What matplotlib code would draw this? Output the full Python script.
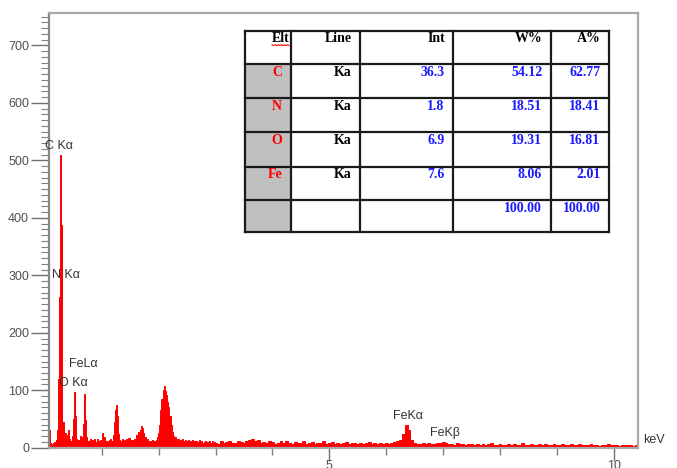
import numpy as np
import matplotlib.pyplot as plt
from matplotlib.patches import Rectangle
from matplotlib.ticker import MultipleLocator, FixedLocator

# EDS spectrum, counts per channel
# low energy part: 0.06 - 2.98 keV, 0.02 keV per channel
low_start, low_step = 0.06, 0.02
low_counts = [
    34, 30, 8, 5, 6, 8, 10, 14, 30, 120,
    262, 510, 387, 45, 18, 26, 14, 22, 30, 16,
    12, 20, 50, 97, 55, 16, 10, 14, 20, 13,
    18, 42, 93, 48, 18, 12, 10, 16, 9, 13,
    11, 15, 10, 16, 12, 9, 13, 11, 25, 18,
    10, 12, 9, 11, 13, 15, 12, 22, 45, 66,
    74, 55, 24, 14, 11, 15, 10, 13, 12, 16,
    12, 17, 11, 14, 10, 13, 16, 14, 22, 27,
    20, 30, 38, 34, 26, 18, 13, 15, 11, 9,
    12, 10, 14, 11, 9, 13, 18, 25, 40, 65,
    85, 100, 107, 98, 92, 80, 70, 55, 40, 28,
    20, 15, 18, 13, 16, 12, 14, 11, 15, 12,
    10, 13, 11, 14, 9, 12, 10, 13, 9, 11,
    12, 8, 10, 13, 9, 11, 8, 10, 12, 9,
    10, 8, 11, 9, 12, 8, 10,
]
# high energy part: 3.00 - 10.40 keV, 0.05 keV per channel
high_start, high_step = 3.00, 0.05
high_counts = [
    9, 7, 11, 8, 10, 12, 9, 8, 11, 10,
    9, 12, 14, 15, 11, 13, 9, 10, 8, 12,
    10, 7, 9, 11, 8, 12, 9, 7, 10, 8,
    9, 11, 7, 8, 10, 6, 9, 8, 11, 7,
    8, 10, 7, 9, 6, 8, 10, 7, 9, 8,
    7, 9, 6, 8, 10, 7, 8, 6, 9, 7,
    8, 7, 9, 10, 12, 14, 24, 39, 31, 14,
    8, 7, 6, 8, 7, 9, 6, 7, 8, 9,
    10, 8, 6, 7, 5, 8, 6, 7, 5, 6,
    7, 5, 6, 4, 7, 5, 6, 8, 5, 4,
    6, 5, 4, 7, 5, 6, 4, 5, 8, 5,
    4, 6, 5, 4, 6, 5, 7, 4, 5, 6,
    5, 4, 6, 5, 4, 7, 5, 4, 6, 5,
    4, 5, 6, 4, 5, 3, 5, 4, 6, 4,
    5, 4, 3, 5, 4, 5, 4, 3, 5,
]

# peak labels: text, energy (keV), height (counts)
peak_names = ['C K\u03b1', 'N K\u03b1', 'FeL\u03b1', 'O K\u03b1', 'FeK\u03b1', 'FeK\u03b2']
peak_x = [0.0, 0.12, 0.425, 0.255, 6.125, 6.77]
peak_y = [525, 300, 146, 112, 55, 25]

# quantification table
elements = ['C', 'N', 'O', 'Fe']
lines = ['Ka', 'Ka', 'Ka', 'Ka']
intensity = ['36.3', '1.8', '6.9', '7.6']
weight_pct = ['54.12', '18.51', '19.31', '8.06']
atomic_pct = ['62.77', '18.41', '16.81', '2.01']
headers = ['Elt', 'Line', 'Int', 'W%', 'A%']
totals = ['', '', '', '100.00', '100.00']

plt.rcParams['font.family'] = ['Liberation Sans', 'DejaVu Sans']

fig = plt.figure(figsize=(6.77, 4.68), dpi=100)
ax = fig.add_axes([48.5 / 677, 20.3 / 468, 589.2 / 677, 435 / 468])

e_low = low_start + low_step * np.arange(len(low_counts))
e_high = high_start + high_step * np.arange(len(high_counts))
energy = np.concatenate([e_low, e_high])
counts = np.array(low_counts + high_counts, dtype=float)

ax.fill_between(energy, counts, step='mid', color='#ff0000', linewidth=0)
ax.step(energy, counts, where='mid', color='#ff0000', linewidth=0.7)

ax.set_xlim(0.065, 10.42)
ax.set_ylim(0, 757)

ax.yaxis.set_major_locator(MultipleLocator(100))
ax.yaxis.set_minor_locator(MultipleLocator(10))
ax.xaxis.set_major_locator(FixedLocator([5, 10]))
ax.xaxis.set_minor_locator(MultipleLocator(1))
ax.tick_params(axis='y', which='major', length=13, width=1, color='#707070',
               labelsize=9, labelcolor='#505050', pad=1)
ax.tick_params(axis='y', which='minor', length=6, width=0.8, color='#808080')
ax.tick_params(axis='x', which='major', length=9, width=1, color='#707070',
               labelsize=9, labelcolor='#505050', pad=0)
ax.tick_params(axis='x', which='minor', length=5, width=1, color='#808080')
for side in ['left', 'right', 'top', 'bottom']:
    ax.spines[side].set_color('#a8a8a8')
    ax.spines[side].set_linewidth(1.6)
ax.spines['left'].set_color('#888888')

for name, x, y in zip(peak_names, peak_x, peak_y):
    ax.text(x, y, name, ha='left', va='center', fontsize=9, color='#333333', clip_on=False)
ax.text(10.51, 13, 'keV', ha='left', va='center', fontsize=9, color='#333333', clip_on=False)

# table drawn in figure pixel coordinates
tab = fig.add_axes([0, 0, 1, 1], facecolor='none')
tab.set_xlim(0, 677)
tab.set_ylim(468, 0)
tab.axis('off')

col_edges = [245, 290.7, 360, 453.3, 550.7, 609]
row_edges = [30.7, 64, 98.3, 132.3, 166.7, 200, 232.3]
tab.add_patch(Rectangle((col_edges[0], row_edges[0]), col_edges[-1] - col_edges[0],
                        row_edges[-1] - row_edges[0], facecolor='white', edgecolor='none'))
tab.add_patch(Rectangle((col_edges[0], row_edges[1]), col_edges[1] - col_edges[0],
                        row_edges[-1] - row_edges[1], facecolor='#c0c0c0', edgecolor='none'))
for x in col_edges:
    tab.plot([x, x], [row_edges[0], row_edges[-1]], color='#1a1a1a', lw=1.6)
for y in row_edges:
    tab.plot([col_edges[0], col_edges[-1]], [y, y], color='#1a1a1a', lw=1.6)

serif = dict(family=['Liberation Serif', 'DejaVu Serif'], fontsize=10, fontweight='bold', va='center', ha='right')
text_right = [c - 8.5 for c in col_edges[1:]]

hdr_right = [289.3] + text_right[1:]
for h, xr in zip(headers, hdr_right):
    tab.text(xr, row_edges[0] + 7.8, h, color='black', **serif)
# spell-check squiggle under the first header
sq_x = np.linspace(272, 289, 12)
tab.plot(sq_x, 44.8 + 0.8 * np.array([0, 1] * 6), color='red', lw=0.8)

colors = ['red', 'black', '#1a1aff', '#1a1aff', '#1a1aff']
rows = list(zip(elements, lines, intensity, weight_pct, atomic_pct))
for i, row in enumerate(rows):
    y = row_edges[i + 1] + 8
    for val, xr, c in zip(row, text_right, colors):
        tab.text(xr, y, val, color=c, **serif)
for val, xr in zip(totals, text_right):
    tab.text(xr, row_edges[5] + 8, val, color='#1a1aff', **serif)

fig.savefig('out.png', dpi=100)
